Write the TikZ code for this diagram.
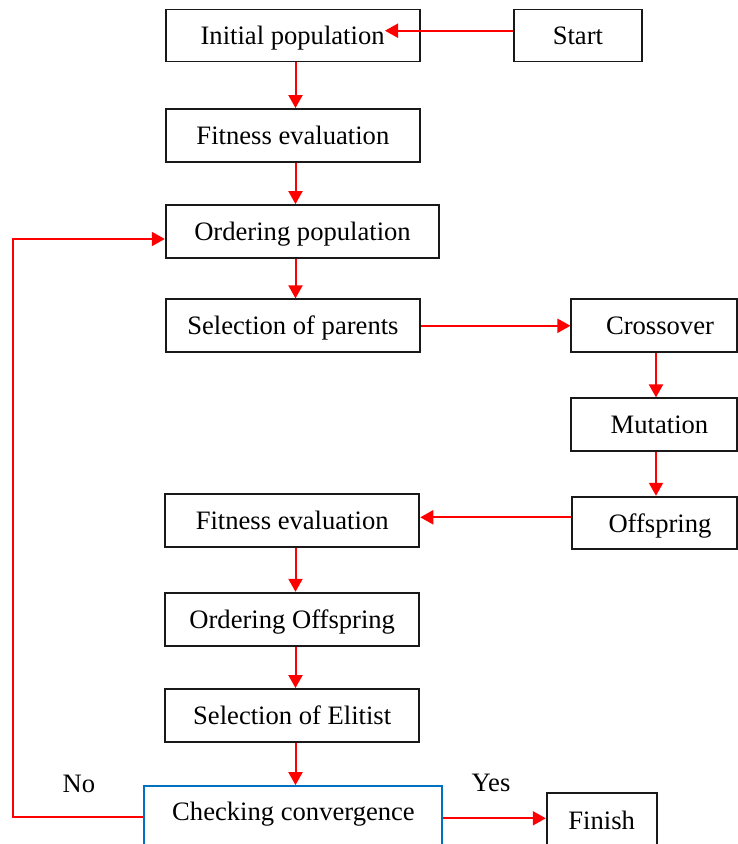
\documentclass[tikz,border=0pt]{standalone}
\usepackage{fontspec}
\setmainfont{Liberation Serif}
\usetikzlibrary{arrows.meta,calc}
\definecolor{arrred}{RGB}{255,0,0}
\definecolor{boxblue}{RGB}{0,112,192}
\tikzset{
  box/.style={draw=black!90, line width=1.8pt, rectangle, inner sep=0pt,
    text height=18pt, text depth=0pt, font=\fontsize{26.6}{30}\selectfont},
  lbl/.style={inner sep=0pt, anchor=base, font=\fontsize{26.6}{30}\selectfont},
  arr/.style={draw=arrred, line width=2pt, -{Triangle[length=13pt,width=14pt]}},
}
\begin{document}
\begin{tikzpicture}[x=1pt,y=-1pt]
\useasboundingbox (0,0) rectangle (738,844);
\clip (0,0) rectangle (738,844);
% boxes
\node[box, minimum width=254pt, minimum height=52pt] (init) at (292.6,35.4) {Initial population};
\node[box, minimum width=127.7pt, minimum height=52pt] (start) at (577.9,35.4) {Start};
\node[box, minimum width=254.3pt, minimum height=52.7pt] (fit1) at (292.9,135.3) {Fitness evaluation};
\node[box, minimum width=273.6pt, minimum height=53pt] (order) at (302.5,231.5) {Ordering population};
\node[box, minimum width=254.3pt, minimum height=53pt] (sel) at (292.9,325.8) {Selection of parents};
\node[box, minimum width=165.7pt, minimum height=53pt] (cross) at (654.2,325.8) {\hspace*{11.6pt}Crossover};
\node[box, minimum width=165.7pt, minimum height=52.4pt] (mut) at (654.2,424.5) {\hspace*{10.6pt}Mutation};
\node[box, minimum width=165pt, minimum height=52.6pt] (off) at (654.5,523) {\hspace*{11pt}Offspring};
\node[box, minimum width=254.3pt, minimum height=52.4pt] (fit2) at (292.2,520.5) {Fitness evaluation};
\node[box, minimum width=254.3pt, minimum height=53pt] (ordoff) at (292.2,619.2) {Ordering Offspring};
\node[box, minimum width=254.3pt, minimum height=52.7pt] (elit) at (292.2,715.3) {Selection of Elitist};
\node[draw=boxblue, line width=1.8pt, rectangle, minimum width=298pt, minimum height=84pt, inner sep=0pt] (conv) at (293,828) {};
\node[lbl] (convtext) at (293.5,820.7) {Checking convergence};
\node[draw=black!90, line width=1.8pt, rectangle, minimum width=110pt, minimum height=76.7pt, inner sep=0pt] (finish) at (601.7,831.7) {};
\node[lbl] (finishtext) at (601.7,829) {Finish};
\node[lbl] (yes) at (491,791.7) {Yes};
\node[lbl] (no) at (79,792) {No};
% helper coordinates
\coordinate (ax) at (295.5,0);
\coordinate (bx) at (656,0);
\coordinate (tipA) at (385,30.7);
\coordinate (cy2) at (0,517.3);
\coordinate (cy3) at (0,818.3);
\coordinate (ly1) at (0,817.3);
\coordinate (lp) at (13.3,239);
% connectors
\draw[arr] (start.west |- tipA) -- (tipA);
\draw[arr] (init.south -| ax) -- (fit1.north -| ax);
\draw[arr] (fit1.south -| ax) -- (order.north -| ax);
\draw[arr] (order.south -| ax) -- (sel.north -| ax);
\draw[arr] (sel.east) -- (cross.west);
\draw[arr] (cross.south -| bx) -- (mut.north -| bx);
\draw[arr] (mut.south -| bx) -- (off.north -| bx);
\draw[arr] (off.west |- cy2) -- (fit2.east |- cy2);
\draw[arr] (fit2.south -| ax) -- (ordoff.north -| ax);
\draw[arr] (ordoff.south -| ax) -- (elit.north -| ax);
\draw[arr] (elit.south -| ax) -- (conv.north -| ax);
\draw[arr] (conv.east |- cy3) -- (finish.west |- cy3);
\draw[arr] (conv.west |- ly1) -| (lp) -- (order.west |- lp);
\end{tikzpicture}
\end{document}
